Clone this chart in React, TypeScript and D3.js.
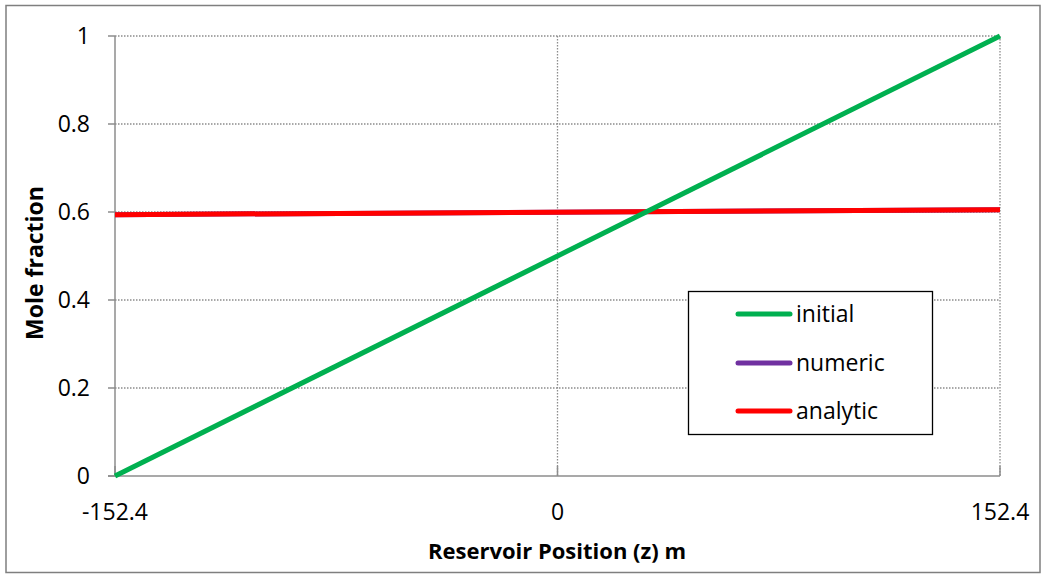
import React from "react";
import * as d3 from "d3";

const xTicks = [-152.4, 0, 152.4];
const yTicks = [0, 0.2, 0.4, 0.6, 0.8, 1];
const positions = [-152.4, 152.4];
const initialValues = [0, 1];
const numericValues = [0.594, 0.605];
const analyticValues = [0.594, 0.605];
const seriesNames = ["initial", "numeric", "analytic"];
const seriesColors = ["#00B050", "#7030A0", "#FF0000"];

const W = 1045;
const H = 578;
const M = { left: 115, right: 1000, top: 36, bottom: 476 };
const FONT = "'Open Sans', Lato, 'Liberation Sans', sans-serif";

export default function App() {
  const x = d3.scaleLinear().domain([-152.4, 152.4]).range([M.left, M.right]);
  const y = d3.scaleLinear().domain([0, 1]).range([M.bottom, M.top]);
  const line = d3
    .line<[number, number]>()
    .x((d) => x(d[0]))
    .y((d) => y(d[1]));
  const series = [initialValues, numericValues, analyticValues];
  const drawOrder = [1, 2, 0];
  const legendRows = [314, 363, 411];

  return (
    <svg
      width={W}
      height={H}
      style={{ position: "absolute", left: 0, top: 0, background: "#fff" }}
      fontFamily={FONT}
    >
      <rect x={6} y={5.5} width={1034} height={567} fill="#fff" stroke="#7f7f7f" strokeWidth={1.5} />
      {/* gridlines */}
      {yTicks.filter((t) => t > 0).map((t) => (
        <line key={"gy" + t} x1={M.left} x2={M.right} y1={y(t)} y2={y(t)} stroke="#8c8c8c" strokeWidth={1.3} strokeDasharray="1.5,1.5" />
      ))}
      {xTicks.filter((t) => t > -152.4).map((t) => (
        <line key={"gx" + t} x1={x(t)} x2={x(t)} y1={M.top} y2={M.bottom} stroke="#8c8c8c" strokeWidth={1.3} strokeDasharray="1.5,1.5" />
      ))}
      {/* axes */}
      <line x1={M.left} x2={M.left} y1={M.top} y2={M.bottom} stroke="#8c8c8c" strokeWidth={1.5} />
      <line x1={M.left - 7} x2={M.right} y1={M.bottom} y2={M.bottom} stroke="#8c8c8c" strokeWidth={1.5} />
      {yTicks.map((t) => (
        <g key={"yt" + t}>
          <line x1={M.left - 7} x2={M.left} y1={y(t)} y2={y(t)} stroke="#8c8c8c" strokeWidth={1.5} />
          <text x={90} y={y(t)} dy="0.35em" textAnchor="end" fontSize={23} fill="#000">
            {String(t)}
          </text>
        </g>
      ))}
      {xTicks.map((t) => (
        <g key={"xt" + t}>
          <line x1={x(t)} x2={x(t)} y1={M.bottom - 10} y2={M.bottom} stroke="#8c8c8c" strokeWidth={1.5} />
          <text x={x(t)} y={512} dy="0.35em" textAnchor="middle" fontSize={23} fill="#000">
            {String(t)}
          </text>
        </g>
      ))}
      {/* series */}
      {drawOrder.map((i) => (
        <path
          key={"s" + i}
          d={line(positions.map((p, k) => [p, series[i][k]]) as [number, number][]) || ""}
          fill="none"
          stroke={seriesColors[i]}
          strokeWidth={5}
        />
      ))}
      {/* legend */}
      <rect x={688.5} y={291.5} width={244} height={143} fill="#fff" stroke="#000" strokeWidth={1.3} />
      {seriesNames.map((n, i) => (
        <g key={"lg" + n}>
          <line x1={738} x2={790} y1={legendRows[i]} y2={legendRows[i]} stroke={seriesColors[i]} strokeWidth={5} strokeLinecap="round" />
          <text x={796} y={legendRows[i]} dy="0.35em" fontSize={23} fill="#000">
            {n}
          </text>
        </g>
      ))}
      {/* titles */}
      <text x={557} y={551} dy="0.35em" textAnchor="middle" fontSize={22} fontWeight="bold" fill="#000">
        Reservoir Position (z) m
      </text>
      <text transform="translate(35,263) rotate(-90)" dy="0.35em" textAnchor="middle" fontSize={23} fontWeight="bold" fill="#000">
        Mole fraction
      </text>
    </svg>
  );
}
